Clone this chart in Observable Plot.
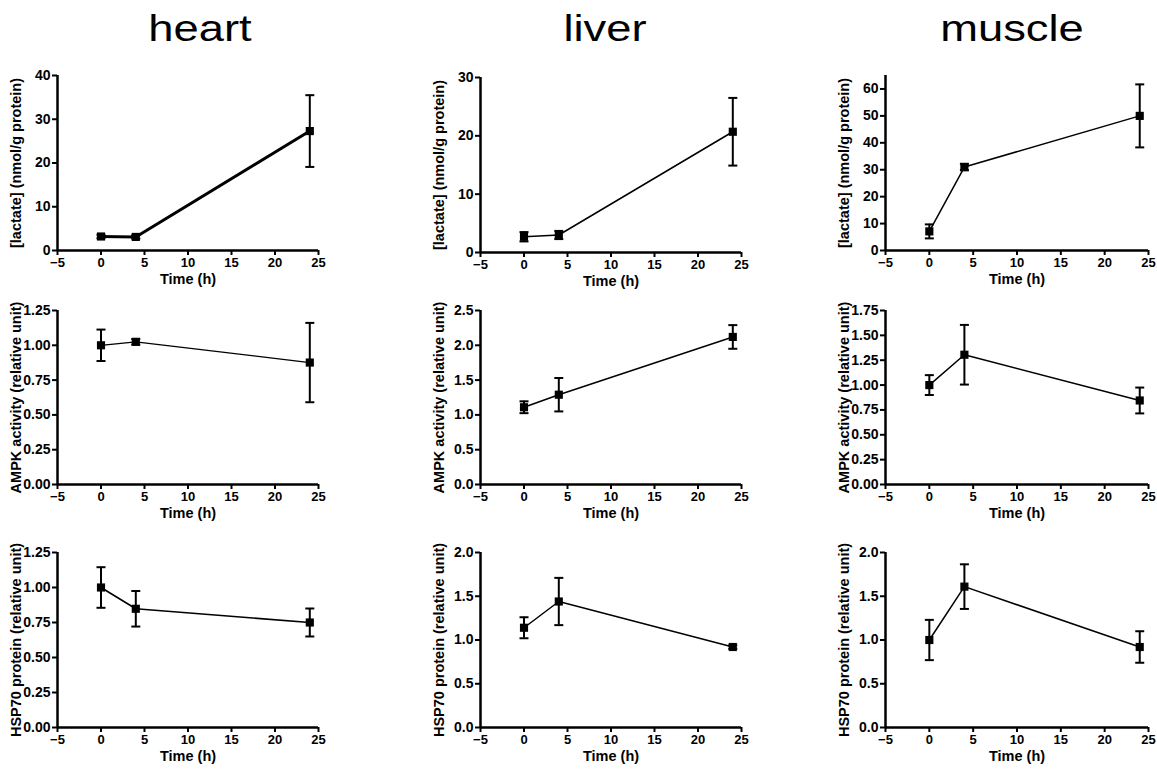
<!DOCTYPE html>
<html>
<head>
<meta charset="utf-8">
<script src="https://cdn.jsdelivr.net/npm/d3@7"></script>
<script src="https://cdn.jsdelivr.net/npm/@observablehq/plot@0.6"></script>
<style>
  html, body { margin: 0; padding: 0; background: #fff; }
  #root { position: relative; width: 1157px; height: 771px; overflow: hidden; background: #fff; }
  .title { position: absolute; font-family: "Liberation Sans", Arial, sans-serif; font-size: 36px; color: #000; transform: translate(-50%, -50%) scaleX(1.26); white-space: nowrap; }
  .panel { position: absolute; }
</style>
</head>
<body>
<div id="root"></div>
<script>
// ---- data ----
const tissues = ["heart", "liver", "muscle"];
const times = [0, 4, 24];
const xTicks = [-5, 0, 5, 10, 15, 20, 25];
const xLabel = "Time (h)";

const lactateLabel = "[lactate] (nmol/g protein)";
const ampkLabel = "AMPK activity (relative unit)";
const hspLabel = "HSP70 protein (relative unit)";

const heartLactateMean = [3.2, 3.1, 27.3];
const heartLactateErr  = [0.4, 0.4, 8.2];
const liverLactateMean = [2.7, 3.0, 20.7];
const liverLactateErr  = [0.8, 0.7, 5.8];
const muscleLactateMean = [7.1, 31.0, 50.0];
const muscleLactateErr  = [2.6, 1.2, 11.7];

const heartAmpkMean = [1.0, 1.025, 0.876];
const heartAmpkErr  = [0.113, 0.02, 0.285];
const liverAmpkMean = [1.11, 1.29, 2.12];
const liverAmpkErr  = [0.085, 0.24, 0.17];
const muscleAmpkMean = [1.0, 1.305, 0.845];
const muscleAmpkErr  = [0.1, 0.3, 0.13];

const heartHspMean = [1.0, 0.848, 0.75];
const heartHspErr  = [0.145, 0.127, 0.1];
const liverHspMean = [1.14, 1.44, 0.92];
const liverHspErr  = [0.12, 0.27, 0.02];
const muscleHspMean = [1.0, 1.61, 0.92];
const muscleHspErr  = [0.23, 0.255, 0.18];

const heartLactateTicks = [0, 10, 20, 30, 40];
const liverLactateTicks = [0, 10, 20, 30];
const muscleLactateTicks = [0, 10, 20, 30, 40, 50, 60];
const heartAmpkTicks = [0, 0.25, 0.5, 0.75, 1.0, 1.25];
const liverAmpkTicks = [0, 0.5, 1.0, 1.5, 2.0, 2.5];
const muscleAmpkTicks = [0, 0.25, 0.5, 0.75, 1.0, 1.25, 1.5, 1.75];
const heartHspTicks = [0, 0.25, 0.5, 0.75, 1.0, 1.25];
const liverHspTicks = [0, 0.5, 1.0, 1.5, 2.0];
const muscleHspTicks = [0, 0.5, 1.0, 1.5, 2.0];

// ---- layout ----
const colAxisX = [57, 480, 885];
const colWidth = [261, 261, 263];
const titleX = [200, 605, 1012];
const titleY = 29;

const panels = [
  {col: 0, top: 75,  zero: 250, yMax: 40,   ticks: heartLactateTicks,  fmt: d3.format("d"),   mean: heartLactateMean, err: heartLactateErr, label: lactateLabel, lw: 3},
  {col: 1, top: 77,  zero: 252, yMax: 30,   ticks: liverLactateTicks,  fmt: d3.format("d"),   mean: liverLactateMean, err: liverLactateErr, label: lactateLabel, lw: 1.5},
  {col: 2, top: 75,  zero: 250, yMax: 65,   ticks: muscleLactateTicks, fmt: d3.format("d"),   mean: muscleLactateMean, err: muscleLactateErr, label: lactateLabel, lw: 1.5},
  {col: 0, top: 310, zero: 484, yMax: 1.25, ticks: heartAmpkTicks,  fmt: d3.format(".2f"), mean: heartAmpkMean, err: heartAmpkErr, label: ampkLabel, lw: 1.2},
  {col: 1, top: 310, zero: 484, yMax: 2.5,  ticks: liverAmpkTicks,  fmt: d3.format(".1f"), mean: liverAmpkMean, err: liverAmpkErr, label: ampkLabel, lw: 1.5},
  {col: 2, top: 310, zero: 484, yMax: 1.75, ticks: muscleAmpkTicks, fmt: d3.format(".2f"), mean: muscleAmpkMean, err: muscleAmpkErr, label: ampkLabel, lw: 1.5},
  {col: 0, top: 552, zero: 727, yMax: 1.25, ticks: heartHspTicks,  fmt: d3.format(".2f"), mean: heartHspMean, err: heartHspErr, label: hspLabel, lw: 1.6},
  {col: 1, top: 552, zero: 727, yMax: 2.0,  ticks: liverHspTicks,  fmt: d3.format(".1f"), mean: liverHspMean, err: liverHspErr, label: hspLabel, lw: 1.5},
  {col: 2, top: 552, zero: 727, yMax: 2.0,  ticks: muscleHspTicks, fmt: d3.format(".1f"), mean: muscleHspMean, err: muscleHspErr, label: hspLabel, lw: 1.5}
];

const capSymbol = {
  draw(context, size) {
    const r = Math.sqrt(size / Math.PI);
    context.moveTo(-r, 0);
    context.lineTo(r, 0);
  }
};

const root = document.getElementById("root");

tissues.forEach((t, i) => {
  const div = document.createElement("div");
  div.className = "title";
  div.textContent = t;
  div.style.left = titleX[i] + "px";
  div.style.top = titleY + "px";
  root.appendChild(div);
});

const ML = 62, MR = 14, MT = 8, MB = 44;
const fontFamily = "'Liberation Sans', Arial, Helvetica, sans-serif";

panels.forEach(p => {
  const data = times.map((x, i) => ({x, y: p.mean[i], lo: p.mean[i] - p.err[i], hi: p.mean[i] + p.err[i]}));
  const w = ML + colWidth[p.col] + MR;
  const h = MT + (p.zero - p.top) + MB;
  const chart = Plot.plot({
    width: w,
    height: h,
    marginLeft: ML, marginRight: MR, marginTop: MT, marginBottom: MB,
    x: {domain: [-5, 25]},
    y: {domain: [0, p.yMax]},
    style: {fontFamily, fontWeight: "bold", fontSize: "12px", color: "#000", background: "transparent", overflow: "visible"},
    marks: [
      Plot.axisX(xTicks, {tickSize: 5, tickPadding: 2, strokeWidth: 2, fontSize: 13, fontWeight: "bold", label: null}),
      Plot.axisY(p.ticks, {tickSize: 5, tickPadding: 2, strokeWidth: 2, tickFormat: p.fmt, fontSize: 14, fontWeight: "bold", label: null}),
      Plot.ruleY([0], {x1: -5, x2: 25, stroke: "#000", strokeWidth: 2.5}),
      Plot.ruleX([-5], {y1: 0, y2: p.yMax, stroke: "#000", strokeWidth: 2.5}),
      Plot.line(data, {x: "x", y: "y", stroke: "#000", strokeWidth: p.lw}),
      Plot.ruleX(data, {x: "x", y1: "lo", y2: "hi", stroke: "#000", strokeWidth: 2}),
      Plot.dot(data, {x: "x", y: "hi", symbol: capSymbol, r: 4.5, stroke: "#000", strokeWidth: 2}),
      Plot.dot(data, {x: "x", y: "lo", symbol: capSymbol, r: 4.5, stroke: "#000", strokeWidth: 2}),
      Plot.dot(data, {x: "x", y: "y", symbol: "square", r: 4.6, fill: "#000"}),
      Plot.text([p.label], {frameAnchor: "left", rotate: -90, dx: -41, fontSize: 14.5, fontWeight: "bold", fill: "#000", textAnchor: "middle", lineAnchor: "middle"}),
      Plot.text([xLabel], {frameAnchor: "bottom", dy: 29, fontSize: 14.5, fontWeight: "bold", fill: "#000", textAnchor: "middle", lineAnchor: "middle"})
    ]
  });
  chart.classList.add("panel");
  chart.style.left = (colAxisX[p.col] - ML) + "px";
  chart.style.top = (p.top - MT) + "px";
  root.appendChild(chart);
});
</script>
</body>
</html>
